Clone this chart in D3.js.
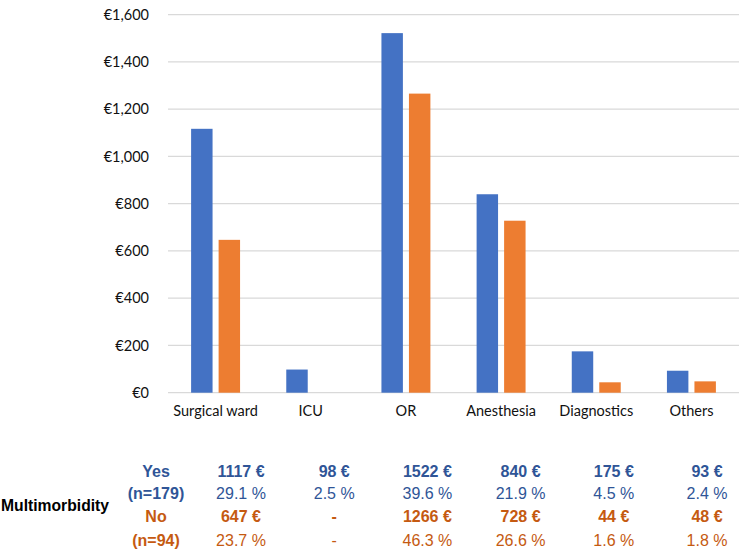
<!DOCTYPE html>
<html>
<head>
<meta charset="utf-8">
<script src="https://cdn.jsdelivr.net/npm/d3@7"></script>
<style>
  body { margin: 0; background: #fff; }
  svg { display: block; }
</style>
</head>
<body>
<div id="chart"></div>
<script>
// Chart data
var categories = ["Surgical ward", "ICU", "OR", "Anesthesia", "Diagnostics", "Others"]
var series = ["Yes", "No"]
var costYes = [1117, 98, 1522, 840, 175, 93]
var costNo = [647, 0, 1266, 728, 44, 48]
var yTicks = [0, 200, 400, 600, 800, 1000, 1200, 1400, 1600]

// Table under the chart
var groupLabels = [["Yes", "(n=179)"], ["No", "(n=94)"]]
var yesCostText = ["1117 €", "98 €", "1522 €", "840 €", "175 €", "93 €"]
var yesPctText = ["29.1 %", "2.5 %", "39.6 %", "21.9 %", "4.5 %", "2.4 %"]
var noCostText = ["647 €", "-", "1266 €", "728 €", "44 €", "48 €"]
var noPctText = ["23.7 %", "-", "46.3 %", "26.6 %", "1.6 %", "1.8 %"]

var width = 740
var height = 551

var colors = { Yes: "#4472C4", No: "#ED7D31" }
var textColors = { Yes: "#2F5597", No: "#C55A11" }

var svg = d3.select("#chart").append("svg")
    .attr("width", width)
    .attr("height", height)

// Scales
var x0 = d3.scaleBand()
    .domain(categories)
    .range([168, 739])

var x1 = d3.scaleBand()
    .domain(series)
    .range([0, x0.bandwidth()])
    .paddingInner(0.22)
    .paddingOuter(0.84)

var y = d3.scaleLinear()
    .domain([0, 1600])
    .range([392.7, 14.7])

// Gridlines
svg.append("g")
    .selectAll("line")
    .data(yTicks)
    .enter().append("line")
    .attr("x1", 168)
    .attr("x2", 739)
    .attr("y1", d => y(d))
    .attr("y2", d => y(d))
    .attr("stroke", "#d9d9d9")
    .attr("stroke-width", 1.2)

// Y axis labels
var yAxis = d3.axisLeft(y)
    .tickValues(yTicks)
    .tickSize(0)
    .tickPadding(0)
    .tickFormat(d => "€" + d3.format(",")(d))

svg.append("g")
    .attr("transform", "translate(149,0)")
    .call(yAxis)
    .call(g => g.select(".domain").remove())
    .selectAll("text")
    .attr("font-family", "Lato, 'Open Sans', sans-serif")
    .attr("font-size", 14.5)
    .attr("fill", "#111")

// Bars
var rows = categories.map((c, i) => ({ cat: c, Yes: costYes[i], No: costNo[i] }))

var groups = svg.append("g")
    .selectAll("g")
    .data(rows)
    .enter().append("g")
    .attr("transform", d => "translate(" + x0(d.cat) + ",0)")

groups.selectAll("rect")
    .data(d => series.map(s => ({ key: s, value: d[s] })))
    .enter().append("rect")
    .attr("x", d => x1(d.key))
    .attr("width", x1.bandwidth())
    .attr("y", d => y(d.value))
    .attr("height", d => y(0) - y(d.value))
    .attr("fill", d => colors[d.key])

// Category labels
var xAxis = d3.axisBottom(x0).tickSize(0).tickPadding(0)

svg.append("g")
    .attr("transform", "translate(0,406)")
    .call(xAxis)
    .call(g => g.select(".domain").remove())
    .selectAll("text")
    .attr("font-family", "Lato, 'Open Sans', sans-serif")
    .attr("font-size", 14.5)
    .attr("fill", "#111")

// Table
var tx = d3.scalePoint()
    .domain(categories)
    .range([241, 707])

var rowY = [477, 499, 522, 546]
var tableFont = "'Liberation Sans', Arial, sans-serif"

function tableRow(texts, yy, color, bold) {
    svg.append("g")
        .selectAll("text")
        .data(texts)
        .enter().append("text")
        .attr("x", (d, i) => tx(categories[i]))
        .attr("y", yy)
        .attr("text-anchor", "middle")
        .attr("font-family", tableFont)
        .attr("font-size", 16)
        .attr("font-weight", bold ? "bold" : "normal")
        .attr("fill", color)
        .text(d => d)
}

tableRow(yesCostText, rowY[0], textColors.Yes, true)
tableRow(yesPctText, rowY[1], textColors.Yes, false)
tableRow(noCostText, rowY[2], textColors.No, true)
tableRow(noPctText, rowY[3], textColors.No, false)

// Group labels
series.forEach((s, i) => {
    groupLabels[i].forEach((t, j) => {
        svg.append("text")
            .attr("x", 156)
            .attr("y", rowY[i * 2 + j])
            .attr("text-anchor", "middle")
            .attr("font-family", tableFont)
            .attr("font-size", 16)
            .attr("font-weight", "bold")
            .attr("fill", textColors[s])
            .text(t)
    })
})

svg.append("text")
    .attr("x", 1)
    .attr("y", 511)
    .attr("font-family", tableFont)
    .attr("font-size", 15.7)
    .attr("font-weight", "bold")
    .attr("fill", "#000")
    .text("Multimorbidity")
</script>
</body>
</html>
